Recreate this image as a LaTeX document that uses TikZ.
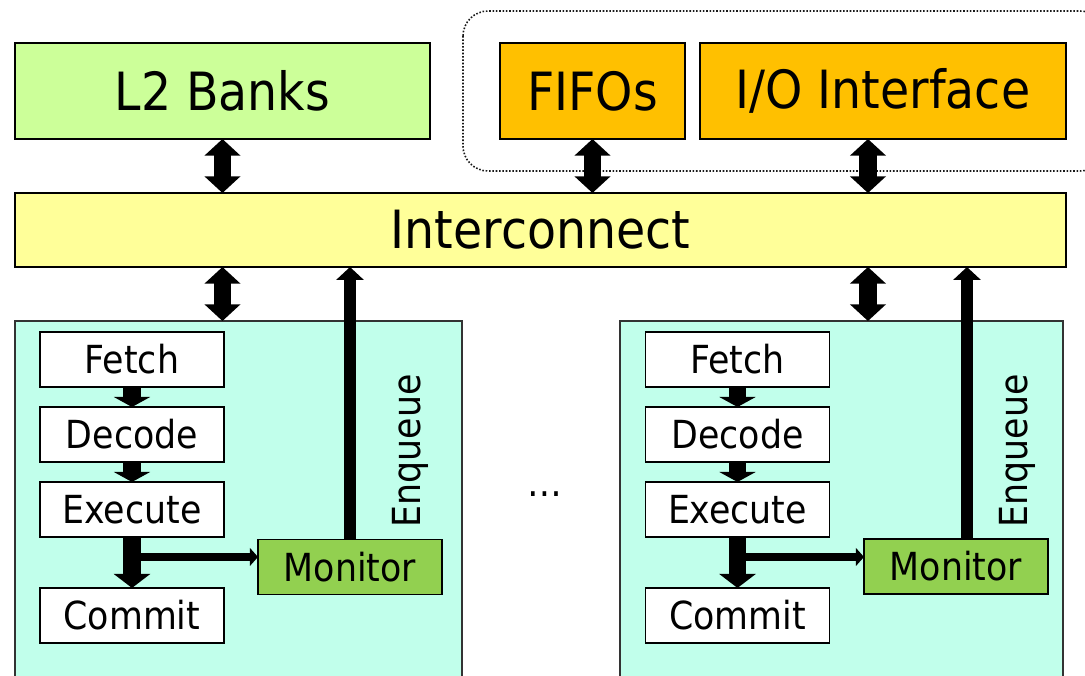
\documentclass[tikz,border=0pt]{standalone}
\usepackage{fontspec}
\setmainfont{DejaVu Sans Condensed}
\usetikzlibrary{arrows.meta,positioning,calc}

\definecolor{lgreen}{HTML}{CCFF99}
\definecolor{iogold}{HTML}{FFC000}
\definecolor{icyellow}{HTML}{FFFF99}
\definecolor{coremint}{HTML}{C1FFEB}
\definecolor{mongreen}{HTML}{92D050}

\begin{document}
\begin{tikzpicture}[x=0.02cm, y=-0.02cm,
    blk/.style={draw, line width=1.1pt, inner sep=0pt, outer sep=0pt, anchor=north west,
        font=\fontsize{30}{30}\selectfont},
    core/.style={draw=black!80, line width=0.9pt, fill=coremint, inner sep=0pt, outer sep=0pt,
        anchor=north west, minimum height=7.38cm},
    stage/.style={draw, line width=0.9pt, fill=white, minimum width=3.68cm, minimum height=1.1cm,
        inner sep=0pt, outer sep=0pt, font=\fontsize{22}{22}\selectfont},
    lbl/.style={inner sep=0pt, font=\fontsize{22}{22}\selectfont},
    bidir/.style={line width=10pt, {Triangle[width=20pt,length=9.5pt]}-{Triangle[width=20pt,length=9.5pt]}},
    stagearr/.style={line width=10pt, -{Triangle[width=20.5pt,length=5.7pt]}},
    commitarr/.style={line width=10pt, -{Triangle[width=20.5pt,length=8pt]}},
    sidearr/.style={line width=5pt, -{Triangle[width=10pt,length=4.6pt]}},
    enqarr/.style={line width=6.8pt, -{Triangle[width=15.4pt,length=7.4pt]}}
]
    \useasboundingbox (0,0) rectangle (1085,676);

    % off-chip part
    \draw [black!90, densely dotted, line width=0.9pt, rounded corners=0.5cm] (463,11) rectangle (1105,171);

    \node [blk, fill=lgreen, minimum width=8.3cm, minimum height=1.92cm] (l2) at (15,43) {L2 Banks};
    \node [blk, fill=iogold, minimum width=3.7cm, minimum height=1.92cm] (fifo) at (500,43) {FIFOs};
    \node [blk, fill=iogold, minimum width=7.32cm, minimum height=1.92cm] (io) at (700,43) {I/O Interface};
    \node [blk, fill=icyellow, minimum width=21.02cm, minimum height=1.48cm] (icn) at (15,193) {Interconnect};

    % cores
    \node [core, minimum width=8.94cm] (coreA) at (15,321) {};
    \node [core, minimum width=8.86cm] (coreB) at (620,321) {};

    % left core pipeline
    \node [stage] (fetchA) at (132,359.5) {Fetch};
    \node [stage, below=0.4cm of fetchA] (decA) {Decode};
    \node [stage, below=0.4cm of decA] (exA) {Execute};
    \node [stage, below=1.02cm of exA] (comA) {Commit};
    \node [stage, fill=mongreen] (monA) at (350,567) {Monitor};
    \node [lbl, rotate=90] (enqA) at (410,451) {Enqueue};

    % right core pipeline
    \node [stage] (fetchB) at (737.5,359.5) {Fetch};
    \node [stage, below=0.4cm of fetchB] (decB) {Decode};
    \node [stage, below=0.4cm of decB] (exB) {Execute};
    \node [stage, below=1.02cm of exB] (comB) {Commit};
    \node [stage, fill=mongreen] (monB) at (956,566.5) {Monitor};
    \node [lbl, rotate=90] (enqB) at (1017,451) {Enqueue};

    \node [lbl] (dots) at (545,494) {\ldots};

    % links to the interconnect
    \coordinate (ioarr) at ($(io.south)+(-15,0)$);
    \draw [bidir] (l2.south) -- (l2.south |- icn.north);
    \draw [bidir] (fifo.south) -- (fifo.south |- icn.north);
    \draw [bidir] (ioarr) -- (ioarr |- icn.north);
    \draw [bidir] (l2.south |- icn.south) -- (l2.south |- coreA.north);
    \draw [bidir] (ioarr |- icn.south) -- (ioarr |- coreB.north);

    % pipeline flow
    \draw [stagearr] (fetchA) -- (decA);
    \draw [stagearr] (decA) -- (exA);
    \draw [commitarr] (exA) -- (comA);
    \draw [stagearr] (fetchB) -- (decB);
    \draw [stagearr] (decB) -- (exB);
    \draw [commitarr] (exB) -- (comB);

    % execute tap to the monitor
    \coordinate (tapA) at ($(exA.south)+(0,20)$);
    \coordinate (tapB) at ($(exB.south)+(0,20)$);
    \draw [sidearr] (tapA) -- (tapA -| monA.west);
    \draw [sidearr] (tapB) -- (tapB -| monB.west);

    % enqueue
    \coordinate (enqBs) at ($(monB.north)+(11,0)$);
    \draw [enqarr] (monA.north) -- (monA.north |- icn.south);
    \draw [enqarr] (enqBs) -- (enqBs |- icn.south);
\end{tikzpicture}
\end{document}
